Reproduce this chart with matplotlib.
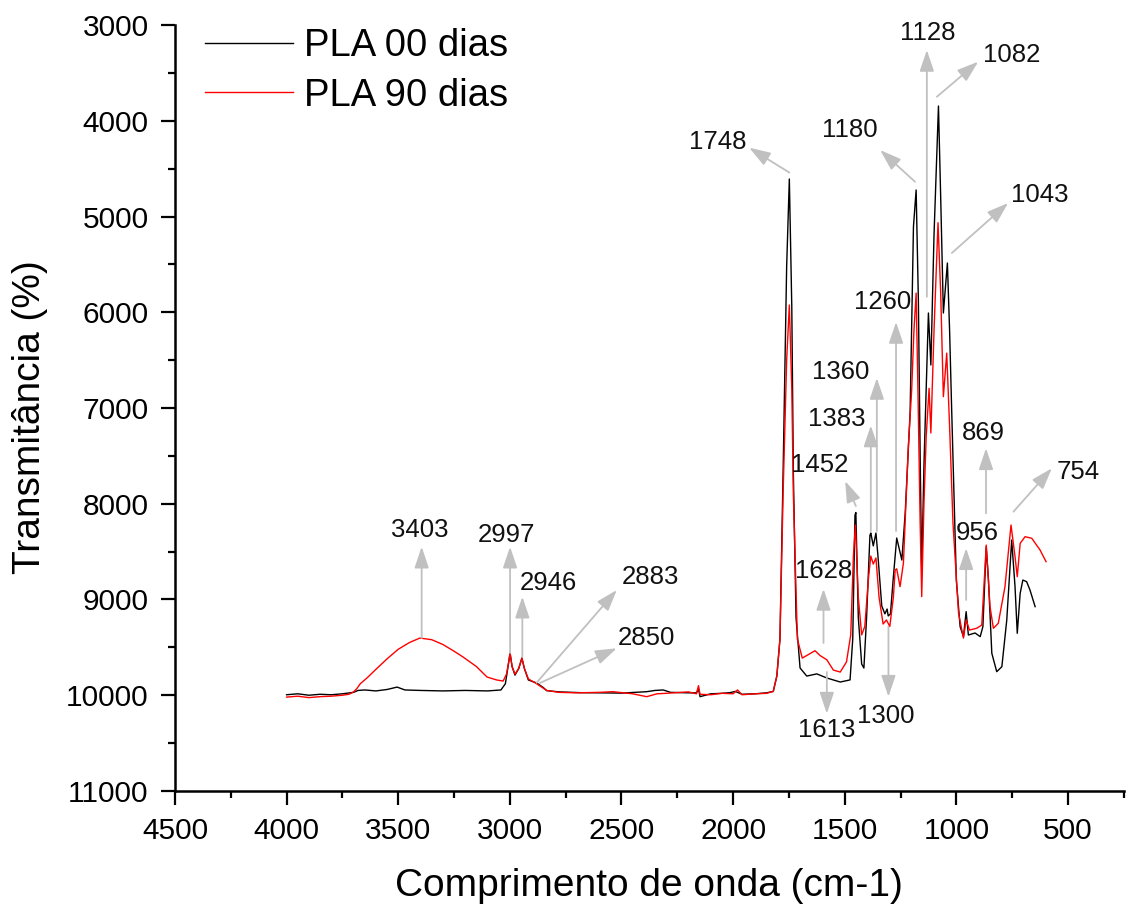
import matplotlib
matplotlib.use("Agg")
import matplotlib.pyplot as plt
from matplotlib.ticker import MultipleLocator

plt.rcParams["font.family"] = ["Liberation Sans", "DejaVu Sans"]

# FTIR spectra (wavenumber cm-1, transmittance)
wn_00 = [4000, 3950, 3900, 3850, 3800, 3750, 3700, 3680, 3650, 3600, 3550, 3505, 3470,
         3400, 3300, 3200, 3100, 3040, 3020, 3008, 2999, 2990, 2977, 2960, 2946, 2935,
         2917, 2880, 2850, 2835, 2780, 2686, 2600, 2500, 2387, 2350, 2313, 2280, 2200,
         2164, 2155, 2148, 2100, 2050, 2014, 1990, 1960, 1900, 1850, 1820, 1804, 1790,
         1776, 1760, 1748, 1737, 1730, 1718, 1700, 1670, 1625, 1580, 1520, 1476, 1464,
         1454, 1450, 1439, 1424, 1414, 1402, 1387, 1383, 1372, 1360, 1351, 1334, 1320,
         1310, 1305, 1295, 1282, 1267, 1244, 1229, 1207, 1192, 1180, 1170, 1162, 1155,
         1145, 1125, 1114, 1100, 1080, 1070, 1058, 1040, 1030, 1022, 1000, 983, 968,
         956, 946, 916, 893, 881, 866, 856, 841, 819, 796, 774, 752, 737, 727, 714, 702,
         685, 670, 647]
t_00 = [9995, 9985, 10000, 9990, 9995, 9985, 9970, 9950, 9945, 9955, 9940, 9915, 9945,
        9950, 9955, 9950, 9955, 9945, 9880, 9700, 9560, 9700, 9790, 9720, 9612, 9720,
        9841, 9872, 9920, 9952, 9965, 9973, 9975, 9978, 9963, 9950, 9945, 9970, 9975,
        9975, 9935, 10015, 9985, 9980, 9973, 9960, 9990, 9985, 9975, 9960, 9800, 9413,
        7680, 5520, 4608, 5945, 7680, 9190, 9715, 9800, 9777, 9820, 9862, 9840, 9413,
        8120, 8092, 9190, 9674, 9716, 9190, 8330, 8306, 8440, 8306, 8546, 9068, 9150,
        9100, 9172, 9150, 8765, 8358, 8588, 8097, 7052, 5106, 4723, 5872, 7500, 8723,
        7600, 6008, 6551, 5200, 3846, 4800, 6008, 5486, 6200, 6917, 8797, 9284, 9388,
        9127, 9371, 9350, 9388, 9284, 8449, 8797, 9562, 9754, 9702, 9214, 8379, 8866,
        9353, 8936, 8797, 8814, 8901, 9075]

wn_90 = [4000, 3950, 3900, 3850, 3800, 3750, 3720, 3700, 3685, 3670, 3640, 3600, 3550,
         3500, 3450, 3403, 3350, 3300, 3250, 3210, 3150, 3102, 3060, 3030, 3015, 3005,
         2999, 2990, 2977, 2960, 2946, 2935, 2917, 2880, 2835, 2780, 2700, 2600, 2538,
         2450, 2387, 2340, 2300, 2200, 2164, 2155, 2148, 2100, 2050, 2000, 1980, 1960,
         1900, 1850, 1820, 1804, 1790, 1776, 1760, 1748, 1737, 1730, 1712, 1690, 1655,
         1633, 1610, 1580, 1551, 1520, 1492, 1473, 1461, 1452, 1439, 1424, 1410, 1393,
         1383, 1372, 1360, 1346, 1328, 1313, 1298, 1282, 1274, 1267, 1252, 1237, 1215,
         1200, 1190, 1180, 1172, 1162, 1155, 1145, 1135, 1122, 1114, 1100, 1082, 1070,
         1058, 1043, 1030, 1015, 990, 968, 956, 941, 909, 886, 866, 849, 834, 812, 782,
         755, 737, 727, 714, 692, 662, 625, 598]
t_90 = [10020, 10010, 10025, 10015, 10010, 10000, 9990, 9965, 9930, 9880, 9820, 9730,
        9620, 9520, 9450, 9403, 9420, 9470, 9540, 9600, 9700, 9810, 9840, 9852, 9780,
        9650, 9560, 9700, 9780, 9720, 9612, 9720, 9830, 9880, 9950, 9970, 9975, 9970,
        9963, 9985, 10015, 9985, 9980, 9965, 9985, 9900, 9990, 9995, 9980, 9985, 9945,
        9995, 9985, 9980, 9960, 9800, 9413, 7900, 6500, 5924, 6800, 7900, 9413, 9612,
        9565, 9535, 9586, 9630, 9737, 9758, 9652, 9370, 8546, 8222, 8978, 9370, 9282,
        8765, 8546, 8630, 8567, 8978, 9256, 9214, 9282, 8978, 8692, 8680, 8866, 8620,
        7404, 6812, 6200, 5800, 6800, 8200, 8970, 8000, 7300, 6795, 7261, 6200, 5065,
        5800, 6882, 6427, 7200, 8200, 9145, 9403, 9214, 9319, 9301, 9267, 8432, 9075,
        9301, 9249, 8866, 8222, 8553, 8762, 8414, 8344, 8361, 8483, 8605]

# band labels: (text, arrow start, arrow end, text position) in data units
bands = [
    ("3403", (3395, 9402), (3395, 8449), (3402, 8274)),
    ("2997", (2999, 9559), (2999, 8449), (3014, 8326)),
    ("2946", (2944, 9597), (2944, 8971), (2829, 8828)),
    ("2883", (2880, 9869), (2521, 8901), (2372, 8762)),
    ("2850", (2865, 9872), (2521, 9510), (2387, 9402)),
    ("1748", (1748, 4541), (1928, 4281), (2067, 4217)),
    ("1628", (1595, 9454), (1595, 8890), (1595, 8698)),
    ("1613", (1580, 9757), (1580, 10192), (1580, 10363)),
    ("1452", (1450, 8024), (1498, 7763), (1614, 7595)),
    ("1383", (1383, 8285), (1383, 7183), (1535, 7115)),
    ("1360", (1356, 8285), (1356, 6687), (1519, 6620)),
    ("1260", (1270, 8285), (1270, 6102), (1332, 5893)),
    ("1300", (1304, 9284), (1304, 10015), (1314, 10217)),
    ("1180", (1185, 4637), (1341, 4306), (1476, 4097)),
    ("1128", (1132, 5838), (1132, 3261), (1126, 3084)),
    ("1082", (1087, 3749), (902, 3383), (751, 3313)),
    ("1043", (1020, 5381), (768, 4859), (625, 4775)),
    ("956", (956, 9005), (956, 8465), (908, 8306)),
    ("869", (867, 8100), (867, 7421), (879, 7264)),
    ("754", (744, 8083), (572, 7630), (454, 7665)),
]

fig = plt.figure(figsize=(11.26, 9.10), dpi=100)
ax = fig.add_axes([0.1554, 0.1308, 0.8426, 0.8417])

ax.plot(wn_00, t_00, color="black", lw=1.0, label="PLA 00 dias")
ax.plot(wn_90, t_90, color="red", lw=1.0, label="PLA 90 dias")

for txt, start, end, pos in bands:
    ax.annotate("", xy=end, xytext=start,
                arrowprops=dict(arrowstyle="-|>,head_length=0.65,head_width=0.22",
                                color="#c0c0c0", lw=1.3, mutation_scale=20,
                                shrinkA=0, shrinkB=0))
    ax.text(pos[0], pos[1], txt, fontsize=18.5, ha="center", va="center", color="#111111")

ax.set_xlim(4500, 250)
ax.set_ylim(11000, 3000)
ax.xaxis.set_major_locator(MultipleLocator(500))
ax.xaxis.set_minor_locator(MultipleLocator(250))
ax.yaxis.set_major_locator(MultipleLocator(1000))
ax.yaxis.set_minor_locator(MultipleLocator(500))

for s in ("top", "right"):
    ax.spines[s].set_visible(False)
for s in ("left", "bottom"):
    ax.spines[s].set_linewidth(1.8)

ax.tick_params(which="major", direction="out", length=10, width=1.6, labelsize=21.5, pad=9)
ax.tick_params(which="minor", direction="out", length=5, width=1.6)

ax.set_xlabel("Comprimento de onda (cm-1)", fontsize=28)
ax.set_ylabel("Transmitância (%)", fontsize=28)
ax.xaxis.set_label_coords(0.5, -0.101)
ax.yaxis.set_label_coords(-0.134, 0.488)

ax.legend(loc="upper left", bbox_to_anchor=(0.0316, 0.996), frameon=False,
          fontsize=27.5, handlelength=2.3, handletextpad=0.3, labelspacing=0.36,
          borderpad=0, borderaxespad=0)

fig.savefig("out.png", dpi=100)
